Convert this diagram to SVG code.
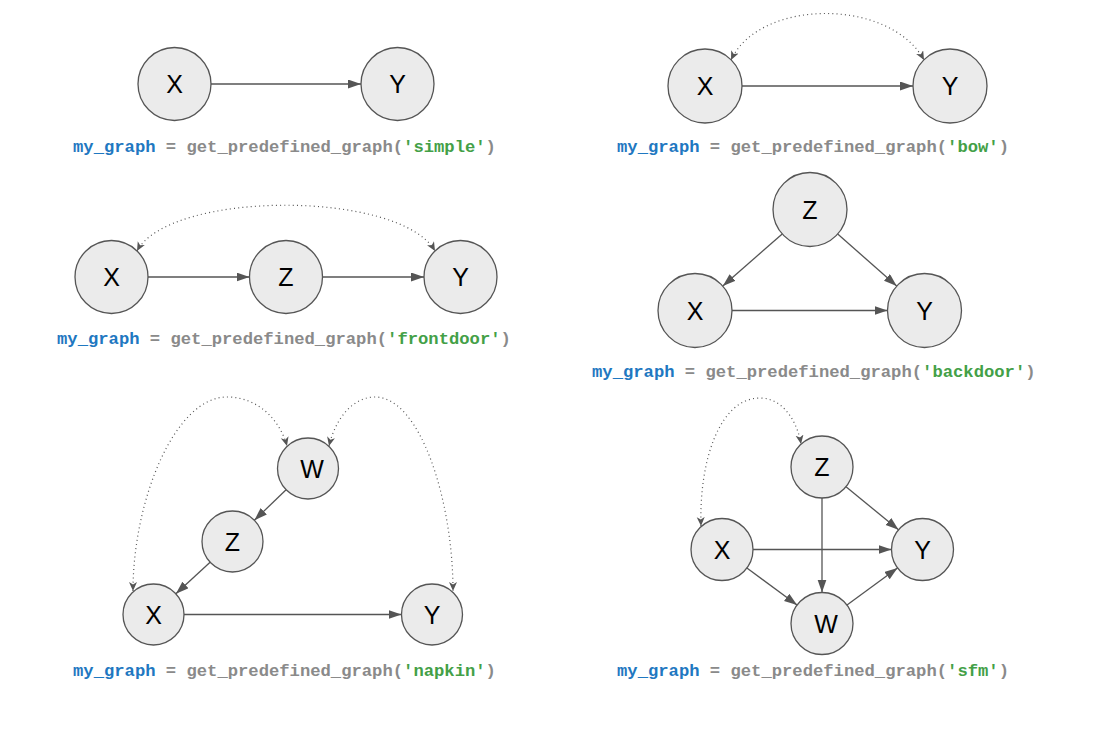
<svg xmlns="http://www.w3.org/2000/svg" width="1103" height="744" viewBox="0 0 1103 744">
<defs>
<style>
.n circle{fill:#ebebeb;stroke:#555;stroke-width:1.3}
.n text{font-family:"Liberation Sans",Arial,sans-serif;font-size:25px;fill:#000;text-anchor:middle}
.e{stroke:#555;stroke-width:1.3;fill:none;marker-end:url(#a)}
.d{stroke:#555;stroke-width:1.2;fill:none;stroke-dasharray:1 3.2;marker-start:url(#b);marker-end:url(#b)}
.lbl{font-family:"Liberation Mono","Courier New",monospace;font-size:17.2px;font-weight:bold;fill:#8a8a8a}
.kw{fill:#1f78c1}
.st{fill:#43a047}
</style>
<marker id="a" markerUnits="userSpaceOnUse" markerWidth="14" markerHeight="10" refX="13" refY="4.5" orient="auto"><path d="M0,0 L13,4.5 L0,9 z" fill="#555"/></marker>
<marker id="b" markerUnits="userSpaceOnUse" markerWidth="12" markerHeight="10" refX="9" refY="4" orient="auto-start-reverse"><path d="M0,0 L9,4 L0,8 L2.5,4 z" fill="#555"/></marker>
</defs>
<rect width="1103" height="744" fill="#fff"/>
<g id="connectors">
<line class="e" x1="211" y1="84" x2="361" y2="84"/>
<line class="e" x1="742" y1="86" x2="913" y2="86"/>
<path class="d" d="M731,60 C760,-2 890,-2 924,60"/>
<line class="e" x1="148" y1="277" x2="249.5" y2="277"/>
<line class="e" x1="322.5" y1="277" x2="424" y2="277"/>
<path class="d" d="M137,251 C170,190 400,190 435,251"/>
<line class="e" x1="782.2" y1="233.9" x2="722.8" y2="286.1"/>
<line class="e" x1="837.7" y1="234" x2="896.7" y2="286"/>
<line class="e" x1="732" y1="310.5" x2="887.5" y2="310.5"/>
<line class="e" x1="286.1" y1="489.7" x2="254.4" y2="520.3"/>
<line class="e" x1="210.1" y1="562.2" x2="175.9" y2="593.8"/>
<line class="e" x1="184" y1="614.5" x2="401.5" y2="614.5"/>
<path class="d" d="M133,591 C133,500 175,397 227,397 C258,397 280,420 287,446"/>
<path class="d" d="M329,446 C335,420 352,397 375,397 C420,397 453,500 453,591"/>
<line class="e" x1="846" y1="486.7" x2="898.5" y2="529.8"/>
<line class="e" x1="822" y1="498" x2="822" y2="592.5"/>
<line class="e" x1="753" y1="549.5" x2="891.5" y2="549.5"/>
<line class="e" x1="746.9" y1="567.9" x2="797.1" y2="605.1"/>
<line class="e" x1="847" y1="605.1" x2="897.5" y2="567.9"/>
<path class="d" d="M701,526 C699,460 720,398 760,398 C782,398 797,420 801,444"/>
</g>
<g id="simple-X" class="n"><circle cx="174.5" cy="84" r="36.5"/><text x="174.5" y="93">X</text></g>
<g id="simple-Y" class="n"><circle cx="397.5" cy="84" r="36.5"/><text x="397.5" y="93">Y</text></g>
<g id="bow-X" class="n"><circle cx="705" cy="86" r="37"/><text x="705" y="95">X</text></g>
<g id="bow-Y" class="n"><circle cx="950" cy="86" r="37"/><text x="950" y="95">Y</text></g>
<g id="frontdoor-X" class="n"><circle cx="111.5" cy="277" r="36.5"/><text x="111.5" y="286">X</text></g>
<g id="frontdoor-Z" class="n"><circle cx="286" cy="277" r="36.5"/><text x="286" y="286">Z</text></g>
<g id="frontdoor-Y" class="n"><circle cx="460.5" cy="277" r="36.5"/><text x="460.5" y="286">Y</text></g>
<g id="backdoor-Z" class="n"><circle cx="810" cy="209.5" r="37"/><text x="810" y="218.5">Z</text></g>
<g id="backdoor-X" class="n"><circle cx="695" cy="310.5" r="37"/><text x="695" y="319.5">X</text></g>
<g id="backdoor-Y" class="n"><circle cx="924.5" cy="310.5" r="37"/><text x="924.5" y="319.5">Y</text></g>
<g id="napkin-W" class="n"><circle cx="308" cy="468.5" r="30.5"/><text x="312" y="477.5">W</text></g>
<g id="napkin-Z" class="n"><circle cx="232.5" cy="541.5" r="30.5"/><text x="232.5" y="550.5">Z</text></g>
<g id="napkin-X" class="n"><circle cx="153.5" cy="614.5" r="30.5"/><text x="153.5" y="623.5">X</text></g>
<g id="napkin-Y" class="n"><circle cx="432" cy="614.5" r="30.5"/><text x="432" y="623.5">Y</text></g>
<g id="sfm-Z" class="n"><circle cx="822" cy="467" r="31"/><text x="822" y="476">Z</text></g>
<g id="sfm-X" class="n"><circle cx="722" cy="549.5" r="31"/><text x="722" y="558.5">X</text></g>
<g id="sfm-Y" class="n"><circle cx="922.5" cy="549.5" r="31"/><text x="922.5" y="558.5">Y</text></g>
<g id="sfm-W" class="n"><circle cx="822" cy="623.5" r="31"/><text x="826" y="632.5">W</text></g>
<g id="labels">
<text class="lbl" x="73" y="152"><tspan class="kw">my_graph</tspan> = get_predefined_graph(<tspan class="st">'simple'</tspan>)</text>
<text class="lbl" x="617" y="152"><tspan class="kw">my_graph</tspan> = get_predefined_graph(<tspan class="st">'bow'</tspan>)</text>
<text class="lbl" x="57" y="344"><tspan class="kw">my_graph</tspan> = get_predefined_graph(<tspan class="st">'frontdoor'</tspan>)</text>
<text class="lbl" x="592" y="377"><tspan class="kw">my_graph</tspan> = get_predefined_graph(<tspan class="st">'backdoor'</tspan>)</text>
<text class="lbl" x="73" y="676"><tspan class="kw">my_graph</tspan> = get_predefined_graph(<tspan class="st">'napkin'</tspan>)</text>
<text class="lbl" x="617" y="676"><tspan class="kw">my_graph</tspan> = get_predefined_graph(<tspan class="st">'sfm'</tspan>)</text>
</g>
</svg>
